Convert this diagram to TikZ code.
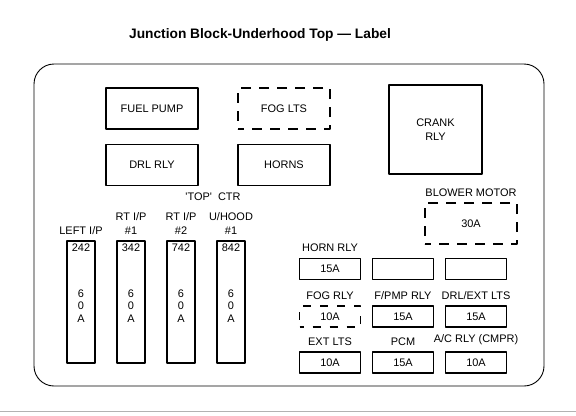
\documentclass[tikz,border=0pt]{standalone}
\usepackage{fontspec}
\setmainfont{Liberation Sans}
\usetikzlibrary{positioning}
\begin{document}
\begin{tikzpicture}[x=1bp,y=-1bp,font=\fontsize{11}{12.5}\selectfont, line join=round,
		box/.style={draw,line width=1.3bp,minimum width=92bp,minimum height=41bp,inner sep=0pt},
		dbox/.style={box,dash pattern=on 10bp off 8bp,dash phase=4bp},
		fuse/.style={draw,line width=1.3bp,minimum width=28bp,minimum height=122bp,inner sep=0pt},
		mini/.style={draw,line width=1.3bp,minimum width=61bp,minimum height=21bp,inner sep=0pt},
		dmini/.style={mini,dash pattern=on 8bp off 9bp,dash phase=4bp},
		lbl/.style={inner sep=0pt,align=center}]
	\useasboundingbox (0,0) rectangle (576,415);
	\node[font=\bfseries\fontsize{13.8}{15}\selectfont] (title) at (260,35) {Junction Block-Underhood Top — Label};
	\draw[line width=0.9bp,rounded corners=20bp] (34,64) rectangle (544,386);
	\draw[gray!60,line width=0.8bp] (0,411) -- (576,411);
	% relays
	\node[box] (fuelpump) at (152,108.5) {FUEL PUMP};
	\node[box] (drlrly) at (152,165) {DRL RLY};
	\node[dbox] (foglts) at (284,108.5) {FOG LTS};
	\node[box] (horns) at (284,165) {HORNS};
	\node[box,minimum width=93bp,minimum height=89bp,align=center,font=\fontsize{11}{14.5}\selectfont] (crank) at (435.5,129.5) {CRANK\\RLY};
	\node[dbox] (blower) at (471,223.5) {30A};
	\node[lbl,above=5.5bp of blower] (blowerlbl) {BLOWER MOTOR};
	% maxi fuses
	\node[lbl] (topctr) at (213,197) {\textquotesingle TOP\textquotesingle\hspace{6bp}CTR};
	\foreach \x/\n/\nm/\t in {81/242/fa/{LEFT I/P}, 131/342/fb/{RT I/P\\\#1}, 181/742/fc/{RT I/P\\\#2}, 231/842/fd/{U/HOOD\\\#1}}
		{
			\node[fuse] (\nm) at (\x,302) {};
			\node[lbl] (\nm num) at (\x,248) {\n};
			\node[lbl,font=\fontsize{11}{12.5}\selectfont] (\nm amp) at (\x,306) {6\\0\\A};
			\node[lbl,font=\fontsize{11}{14}\selectfont,anchor=south] (\nm lbl) at (\x,235) {\t};
		}
	% mini fuses
	\foreach \nm/\x/\y/\a/\t in {ma/330/269/15A/{HORN RLY}, mb/403/316.5/15A/{F/PMP RLY}, mc/476/316.5/15A/{DRL/EXT LTS}, md/330/362.5/10A/{EXT LTS}, me/403/362.5/15A/PCM, mf/476/362.5/10A/{A/C RLY (CMPR)}}
		{
			\node[mini] (\nm) at (\x,\y) {\a};
			\node[lbl,above=6bp of \nm] (\nm lbl) {\t};
		}
	\node[mini] (mg) at (403,269) {};
	\node[mini] (mh) at (476,269) {};
	\node[dmini] (mi) at (330,316.5) {10A};
	\node[lbl,above=6bp of mi] (mi lbl) {FOG RLY};
\end{tikzpicture}
\end{document}
